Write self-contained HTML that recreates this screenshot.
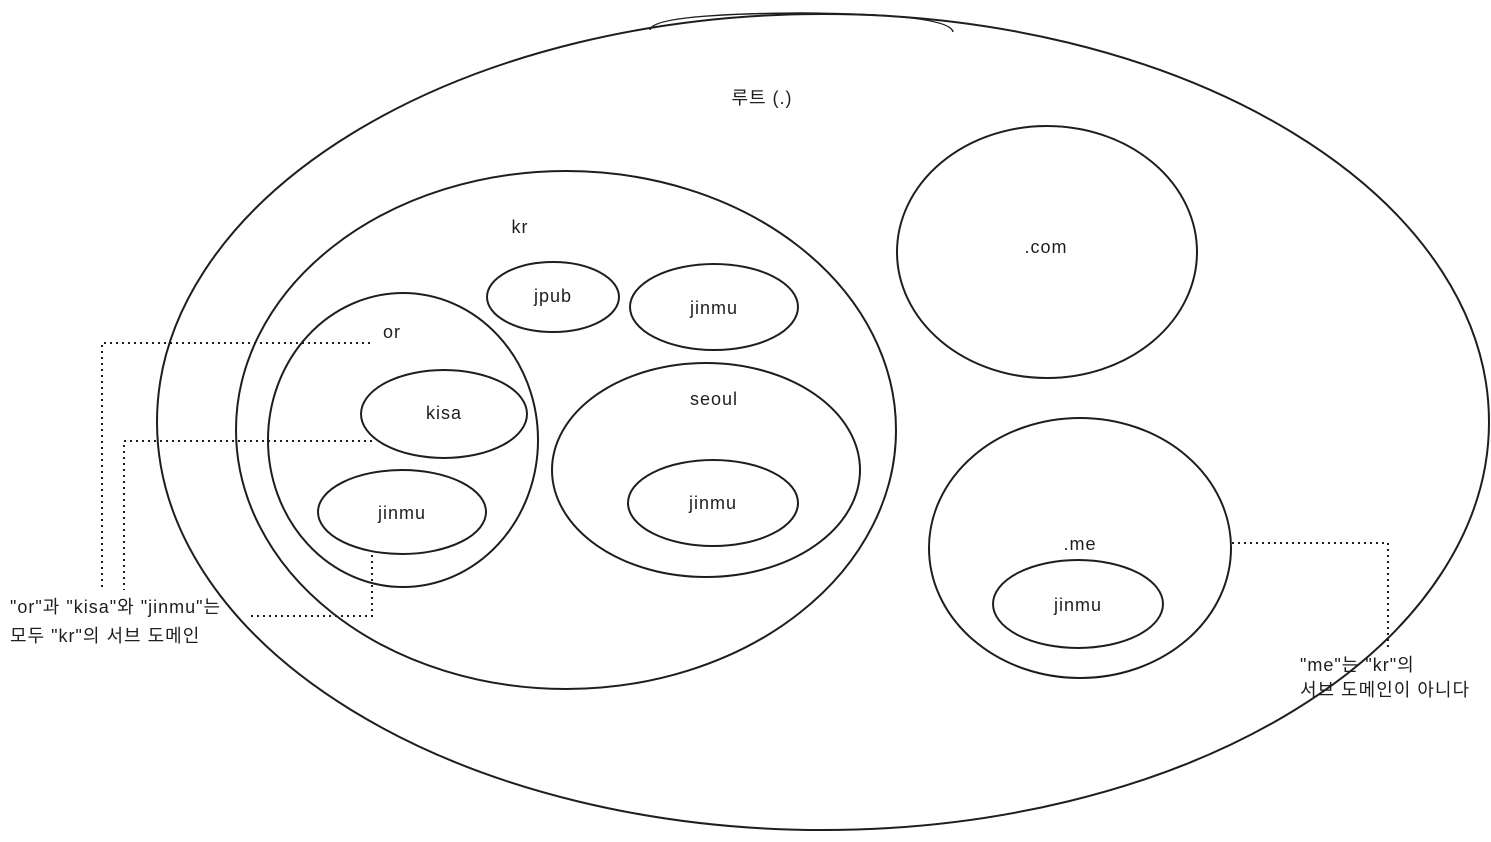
<!DOCTYPE html>
<html><head><meta charset="utf-8"><style>
html,body{margin:0;padding:0;background:#fff;}
svg text{font-family:"Liberation Sans","Noto Sans CJK KR",sans-serif;font-size:18px;letter-spacing:1px;fill:#1e1e1e;}
</style></head><body>
<svg width="1491" height="837" viewBox="0 0 1491 837" xmlns="http://www.w3.org/2000/svg">
<g fill="none" stroke="#1e1e1e" stroke-width="2">
<ellipse cx="823" cy="422" rx="666" ry="408"/>
<path d="M650 30 Q652 14 800 13 Q950 14 953 32" stroke-width="1.5"/>
<ellipse cx="566" cy="430" rx="330" ry="259"/>
<ellipse cx="403" cy="440" rx="135" ry="147"/>
<ellipse cx="444" cy="414" rx="83" ry="44"/>
<ellipse cx="402" cy="512" rx="84" ry="42"/>
<ellipse cx="553" cy="297" rx="66" ry="35"/>
<ellipse cx="714" cy="307" rx="84" ry="43"/>
<ellipse cx="706" cy="470" rx="154" ry="107"/>
<ellipse cx="713" cy="503" rx="85" ry="43"/>
<ellipse cx="1047" cy="252" rx="150" ry="126"/>
<ellipse cx="1080" cy="548" rx="151" ry="130"/>
<ellipse cx="1078" cy="604" rx="85" ry="44"/>
</g>
<g fill="none" stroke="#1e1e1e" stroke-width="2" stroke-dasharray="2 4">
<path d="M370 343 H102 V590"/>
<path d="M372 441 H124 V590"/>
<path d="M372 555 V616 H248"/>
<path d="M1232 543 H1388 V650"/>
</g>
<g text-anchor="middle">
<text x="762" y="104">루트 (.)</text>
<text x="520" y="233">kr</text>
<text x="392" y="338">or</text>
<text x="444" y="419">kisa</text>
<text x="402" y="519">jinmu</text>
<text x="553" y="302">jpub</text>
<text x="714" y="314">jinmu</text>
<text x="714" y="405">seoul</text>
<text x="713" y="509">jinmu</text>
<text x="1046" y="253">.com</text>
<text x="1080" y="550">.me</text>
<text x="1078" y="611">jinmu</text>
</g>
<text x="10" y="613">"or"과 "kisa"와 "jinmu"는</text>
<text x="10" y="642">모두 "kr"의 서브 도메인</text>
<text x="1300" y="671">"me"는 "kr"의</text>
<text x="1300" y="696">서브 도메인이 아니다</text>
</svg>
</body></html>
